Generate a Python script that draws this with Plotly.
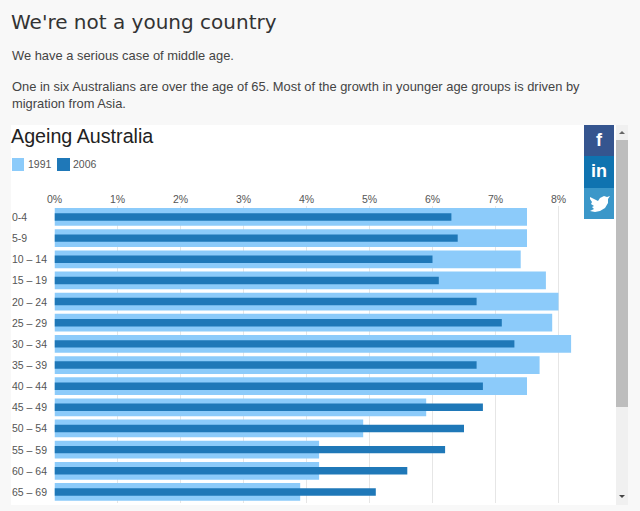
import plotly.graph_objects as go

W, H = 640, 511
LEFT_PUSH = 8  # left margin that Plotly reserves in this layout

age_groups = ["0-4", "5-9", "10 – 14", "15 – 19", "20 – 24", "25 – 29", "30 – 34",
              "35 – 39", "40 – 44", "45 – 49", "50 – 54", "55 – 59", "60 – 64", "65 – 69"]
share_1991 = [7.5, 7.5, 7.4, 7.8, 8.0, 7.9, 8.2, 7.7, 7.5, 5.9, 4.9, 4.2, 4.2, 3.9]
share_2006 = [6.3, 6.4, 6.0, 6.1, 6.7, 7.1, 7.3, 6.7, 6.8, 6.8, 6.5, 6.2, 5.6, 5.1]
x_ticks = [0, 1, 2, 3, 4, 5, 6, 7, 8]
x_tick_labels = ["0%", "1%", "2%", "3%", "4%", "5%", "6%", "7%", "8%"]

LIGHT = "#8ccbfa"
DARK = "#1f78b8"
BODY = "Liberation Sans, Arial, sans-serif"


def px(x):
    return (x - LEFT_PUSH) / (W - LEFT_PUSH)


def py(y):
    return 1 - y / H


def rect(x0, y0, x1, y1, color, layer="below"):
    return dict(type="rect", xref="paper", yref="paper", x0=px(x0), x1=px(x1), y0=py(y1), y1=py(y0),
                fillcolor=color, line_width=0, layer=layer)


def label(x, y, text, size, color="#444444", family=BODY, anchor="left"):
    return dict(xref="paper", yref="paper", x=px(x), y=py(y), text=text, showarrow=False,
                xanchor=anchor, yanchor="middle", xshift=-2 if anchor == "left" else 0,
                font=dict(size=size, color=color, family=family))


fig = go.Figure()
fig.add_trace(go.Bar(y=age_groups, x=share_1991, orientation="h", name="1991",
                     marker=dict(color=LIGHT, line_width=0), width=0.84))
fig.add_trace(go.Bar(y=age_groups, x=share_2006, orientation="h", name="2006",
                     marker=dict(color=DARK, line_width=0), width=0.35))

shapes = [
    rect(11, 125, 616, 505, "#ffffff"),
    rect(616, 125, 628, 505, "#f0f0f0", "above"),
    rect(616, 140, 628, 407, "#bdbdbd", "above"),
    rect(584, 125, 614, 156, "#35558f", "above"),
    rect(584, 156, 614, 188, "#0f73b0", "above"),
    rect(584, 188, 614, 219, "#3b97c9", "above"),
    rect(12, 158, 24, 171, LIGHT),
    rect(57, 158, 70, 171, DARK),
    dict(type="path", xref="paper", yref="paper", layer="above", line_width=0, fillcolor="#666666",
         path=f"M {px(619)} {py(134)} L {px(625)} {py(134)} L {px(622)} {py(131)} Z"),
    dict(type="path", xref="paper", yref="paper", layer="above", line_width=0, fillcolor="#444444",
         path=f"M {px(619)} {py(495)} L {px(625)} {py(495)} L {px(622)} {py(498)} Z"),
    dict(type="path", xref="paper", yref="paper", layer="above", line_width=0, fillcolor="#ffffff",
         path="M " + " L ".join(f"{px(a)} {py(b)}" for a, b in [
             (590, 197), (594, 199), (598, 201), (600, 198), (604, 196), (607, 197), (610, 196),
             (608, 199), (608, 203), (605, 208), (600, 211), (595, 212), (590, 211), (594, 209),
             (592, 207), (594, 206), (591, 204), (592, 202), (590, 199)]) + " Z"),
]

annotations = [
    label(11, 22, "We're not a young country", 20, "#333333", "DejaVu Sans"),
    label(12, 55, "We have a serious case of middle age.", 12.9),
    label(12, 86, "One in six Australians are over the age of 65. Most of the growth in younger age groups is driven by", 12.9),
    label(12, 103, "migration from Asia.", 12.9),
    label(11, 136, "Ageing Australia", 19.7, "#222222"),
    label(28, 164, "1991", 10.5, "#555555"),
    label(73, 164, "2006", 10.5, "#555555"),
    label(599, 140, "<b>f</b>", 18, "#ffffff", anchor="center"),
    label(599, 171, "<b>in</b>", 18, "#ffffff", anchor="center"),
]
for group in age_groups:
    annotations.append(dict(xref="paper", yref="y", x=px(12), y=group, text=group, showarrow=False,
                            xanchor="left", yanchor="middle", xshift=-2,
                            font=dict(size=10.5, color="#555555", family=BODY)))

fig.update_layout(
    width=W, height=H, autosize=False,
    margin=dict(l=0, r=0, t=0, b=0),
    paper_bgcolor="#f8f8f8", plot_bgcolor="rgba(0,0,0,0)",
    barmode="overlay", showlegend=False,
    shapes=shapes, annotations=annotations,
    font=dict(family=BODY),
    xaxis=dict(side="top", anchor="y", domain=[px(54.5), px(583)], range=[0, (583 - 54.5) / 63],
               tickvals=x_ticks, ticktext=x_tick_labels, showgrid=True, gridcolor="#e6e6e6", gridwidth=1,
               zeroline=False, showline=False, ticks="", tickfont=dict(size=10.5, color="#555555")),
    yaxis=dict(domain=[py(502.5), py(206.4)], categoryorder="array", categoryarray=age_groups,
               autorange=False, range=[13.5, -0.5], showticklabels=False, showgrid=False,
               zeroline=False, showline=False, ticks=""),
)

fig.write_html("out.html", config=dict(displayModeBar=False),
               post_script="document.body.style.margin='0';document.body.style.overflow='hidden';document.body.style.background='#f8f8f8';")
